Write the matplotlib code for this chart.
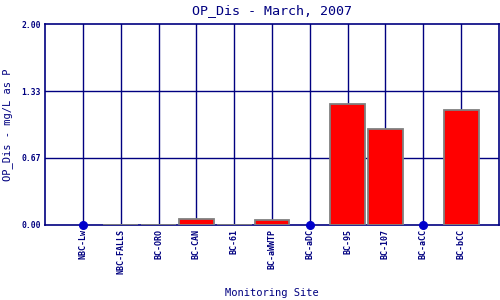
import matplotlib
matplotlib.use("Agg")
import matplotlib.pyplot as plt
import numpy as np

sites = ["NBC-Lw", "NBC-FALLS", "BC-ORO", "BC-CAN", "BC-61", "BC-aWWTP",
         "BC-aDC", "BC-95", "BC-107", "BC-aCC", "BC-bCC"]
bar_values = [None, 0.0, 0.0, 0.057, 0.0, 0.047, None, 1.20, 0.952, None, 1.14]
nondetect = [0.0, None, None, None, None, None, 0.0, None, None, 0.0, None]
yticks = [0.0, 0.67, 1.33, 2.0]
ytick_labels = ["0.00", "0.67", "1.33", "2.00"]

navy = "#000080"
fig = plt.figure(figsize=(5, 3), dpi=100)
ax = fig.add_axes([0.09, 0.25, 0.908, 0.67])
x = np.arange(len(sites))

ax.set_xlim(-1, len(sites))
ax.set_ylim(0, 2.0)

# grid
for xi in x:
    ax.axvline(xi, color=navy, lw=1.0, zorder=1)
for yt in yticks[1:-1]:
    ax.axhline(yt, color=navy, lw=1.0, zorder=1)

bx = [xi for xi, v in zip(x, bar_values) if v is not None]
bv = [v for v in bar_values if v is not None]
ax.bar(bx, bv, width=0.92, color="#ff0000", edgecolor="#808080", linewidth=1.3, zorder=3)

dx = [xi for xi, v in zip(x, nondetect) if v is not None]
dv = [v for v in nondetect if v is not None]
ax.plot(dx, dv, "o", color="#0000cc", markersize=5.5, zorder=5, clip_on=False)

for s in ax.spines.values():
    s.set_color(navy)
    s.set_linewidth(1.2)

mono = "DejaVu Sans Mono"
ax.set_yticks(yticks)
ax.set_yticklabels(ytick_labels, fontsize=5.8, fontweight="bold", family=mono, color=navy)
ax.set_xticks(x)
ax.set_xticklabels(sites, rotation=90, fontsize=6, fontweight="bold", family=mono, color=navy)
ax.tick_params(axis="both", length=0, pad=3)

ax.set_title("OP_Dis - March, 2007", fontsize=9.6, family=mono, color=navy, pad=7)
ax.set_ylabel("OP_Dis - mg/L as P", fontsize=7.5, family=mono, color=navy, labelpad=6)
fig.text(0.543, 0.012, "Monitoring Site", fontsize=7.5, family=mono, color=navy, ha="center")

fig.savefig("out.png", dpi=100)
